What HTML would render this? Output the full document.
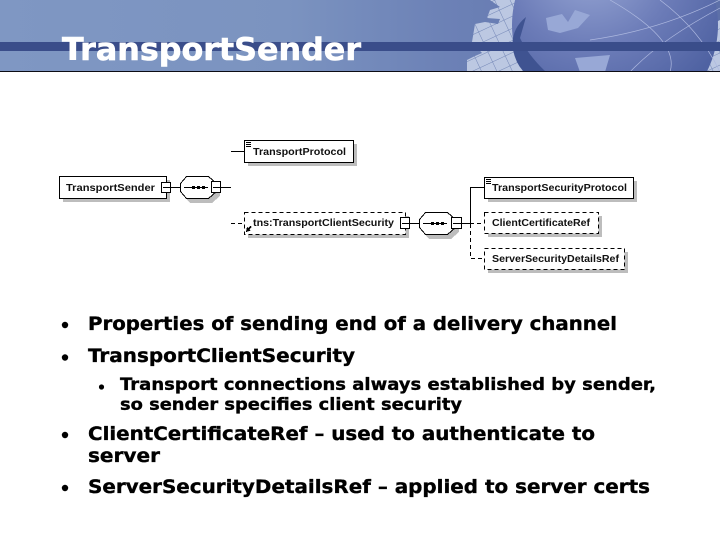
<!DOCTYPE html>
<html><head><meta charset="utf-8"><title>TransportSender</title>
<style>html,body{margin:0;padding:0;background:#fff}svg{display:block}
.d{font:bold 10.5px "Liberation Sans",sans-serif;fill:#111}
.b{font-family:"DejaVu Sans",sans-serif;font-weight:bold;fill:#000;stroke:#000;stroke-width:.35px}
.s{fill:#bdbdbd}.w{fill:#fff;stroke:#000;stroke-width:1}
.l{fill:none;stroke:#000;stroke-width:1}.da{stroke-dasharray:4 3}
</style></head><body>
<svg width="720" height="540" viewBox="0 0 720 540" xmlns="http://www.w3.org/2000/svg" shape-rendering="crispEdges">
<defs>
<linearGradient id="h" x1="0" x2="1" y1="0" y2="0"><stop offset="0" stop-color="#7f97c3"/><stop offset=".4" stop-color="#7b93c0"/><stop offset=".62" stop-color="#6c81b6"/><stop offset="1" stop-color="#5d70a8"/></linearGradient>
<radialGradient id="g" cx=".38" cy=".2" r=".75"><stop offset="0" stop-color="#9aa9d6"/><stop offset=".55" stop-color="#6c7cb8"/><stop offset="1" stop-color="#4f62a2"/></radialGradient>
<clipPath id="c"><rect x="0" y="0" width="720" height="71"/></clipPath>
<pattern id="p" width="14" height="11" patternUnits="userSpaceOnUse" patternTransform="rotate(-25)"><rect width="14" height="11" fill="#bcc8e2"/><path d="M0 0H14M0 0V11" stroke="#7386b6" stroke-width="1" fill="none"/></pattern>
</defs>
<rect width="720" height="71" fill="url(#h)"/>
<g clip-path="url(#c)" shape-rendering="auto">
<polygon fill="url(#p)" points="490,0 530,0 530,72 467,72 467,60 475,56 482,53 472,42 475,24 485,22 498,24 500,19 487,18 490,10 500,7"/>
<polygon fill="url(#p)" points="708,26 720,20 720,72 680,72 690,62 700,55 712,52 708,42"/>
<circle cx="615" cy="25" r="103" fill="url(#g)"/>
<path d="M526 17 Q510 30 513 50 Q516 64 524 72 L546 72 Q528 55 520 38Z" fill="#3f5391"/>
<path d="M546 18 L562 14 L568 22 L575 10 L590 15 L578 28 L560 33 L548 30Z M575 58 L610 55 L605 72 L580 72Z" fill="#98a8d6"/>
<g stroke="#aeb9e0" stroke-width=".7" fill="none"><path d="M610 0 Q680 40 670 72M660 0 Q700 30 720 72M720 8 Q660 40 630 72M590 40 Q660 30 720 0"/></g>
</g>
<rect x="0" y="42" width="720" height="9" fill="#3a4d8a"/>
<rect x="0" y="71" width="720" height="1" fill="#0c0c14"/>
<text x="62" y="60" font-size="31" textLength="299" lengthAdjust="spacingAndGlyphs" class="b" style="fill:#fff;stroke:#fff;stroke-width:.6px" shape-rendering="auto">TransportSender</text>

<!-- shadows -->
<rect class="s" x="63" y="180" width="107" height="22"/>
<rect class="s" x="248" y="144" width="109" height="22"/>
<rect class="s" x="248" y="216" width="161" height="22"/>
<rect class="s" x="488" y="181" width="149" height="21"/>
<rect class="s" x="488" y="216" width="114" height="21"/>
<rect class="s" x="488" y="252" width="140" height="21"/>
<polygon class="s" points="190,180 212,180 220,188 220,196 212,203 190,203 184,196 184,188"/>
<polygon class="s" points="429,216 451,216 459,224 459,232 451,239 429,239 423,232 423,224"/>

<!-- boxes -->
<rect class="w" x="59.5" y="176.5" width="107" height="22"/>
<rect class="w" x="244.5" y="140.5" width="109" height="22"/>
<rect class="w da" x="244.5" y="212.5" width="161" height="22"/>
<rect class="w" x="484.5" y="177.5" width="149" height="21"/>
<rect class="w da" x="484.5" y="212.5" width="114" height="21"/>
<rect class="w da" x="484.5" y="248.5" width="140" height="21"/>

<!-- compositors -->
<polygon class="w" points="186.5,176.5 208.5,176.5 216.5,183.5 216.5,191.5 208.5,198.5 186.5,198.5 180.5,191.5 180.5,183.5"/>
<polygon class="w" points="425.5,212.5 447.5,212.5 455.5,219.5 455.5,227.5 447.5,234.5 425.5,234.5 419.5,227.5 419.5,219.5"/>
<path class="l" d="M184 187.5H208M423 223.5H447"/>
<path d="M192 186h3v3h-3zM197 186h3v3h-3zM202 186h3v3h-3zM431 222h3v3h-3zM436 222h3v3h-3zM441 222h3v3h-3z" fill="#000"/>

<!-- minus boxes -->
<rect class="w" x="161.5" y="182.5" width="9" height="10"/><path class="l" d="M163 187.5H170"/>
<rect class="w" x="211.5" y="181.5" width="9" height="11"/><path class="l" d="M213 187.5H220"/>
<rect class="w" x="400.5" y="217.5" width="9" height="11"/><path class="l" d="M402 223.5H409"/>
<rect class="w" x="451.5" y="217.5" width="10" height="11"/><path class="l" d="M453 223.5H461"/>

<!-- connectors -->
<path class="l" d="M170 187.5H180M221 187.5H231M231 151.5H244M409 223.5H419M461 223.5H470M470.5 223V187.5H484"/>
<path class="l da" d="M231 223.5H244M470 223.5H484M470.5 224V258.5H484"/>

<!-- list glyphs -->
<path class="l" d="M246 142.5H251M246 144.5H251M246 146.5H251M486 179.5H491M486 181.5H491M486 183.5H491"/>
<path d="M246 232l1 -5 1.2 1.2 2.3-2.3 1.2 1.2-2.3 2.3 1.2 1.2z" fill="#000"/>

<g shape-rendering="auto">
<text class="d" x="66" y="191" textLength="89" lengthAdjust="spacingAndGlyphs">TransportSender</text>
<text class="d" x="253" y="155" textLength="93" lengthAdjust="spacingAndGlyphs">TransportProtocol</text>
<text class="d" x="253" y="226" textLength="141" lengthAdjust="spacingAndGlyphs">tns:TransportClientSecurity</text>
<text class="d" x="492" y="191" textLength="135" lengthAdjust="spacingAndGlyphs">TransportSecurityProtocol</text>
<text class="d" x="492" y="226" textLength="98" lengthAdjust="spacingAndGlyphs">ClientCertificateRef</text>
<text class="d" x="492" y="262" textLength="127" lengthAdjust="spacingAndGlyphs">ServerSecurityDetailsRef</text>

<circle cx="65" cy="325" r="3.2"/><circle cx="65" cy="357.5" r="3.2"/><circle cx="101.5" cy="387" r="2.6"/><circle cx="65" cy="435" r="3.2"/><circle cx="65" cy="488" r="3.2"/>
<text class="b" x="88" y="330" font-size="19" textLength="529" lengthAdjust="spacingAndGlyphs">Properties of sending end of a delivery channel</text>
<text class="b" x="88" y="362" font-size="19" textLength="267" lengthAdjust="spacingAndGlyphs">TransportClientSecurity</text>
<text class="b" x="120" y="390" font-size="17" textLength="536" lengthAdjust="spacingAndGlyphs">Transport connections always established by sender,</text>
<text class="b" x="120" y="410" font-size="17" textLength="342" lengthAdjust="spacingAndGlyphs">so sender specifies client security</text>
<text class="b" x="88" y="440" font-size="19" textLength="507" lengthAdjust="spacingAndGlyphs">ClientCertificateRef – used to authenticate to</text>
<text class="b" x="88" y="462" font-size="19" textLength="72" lengthAdjust="spacingAndGlyphs">server</text>
<text class="b" x="88" y="493" font-size="19" textLength="562" lengthAdjust="spacingAndGlyphs">ServerSecurityDetailsRef – applied to server certs</text>
</g>
</svg>
</body></html>
